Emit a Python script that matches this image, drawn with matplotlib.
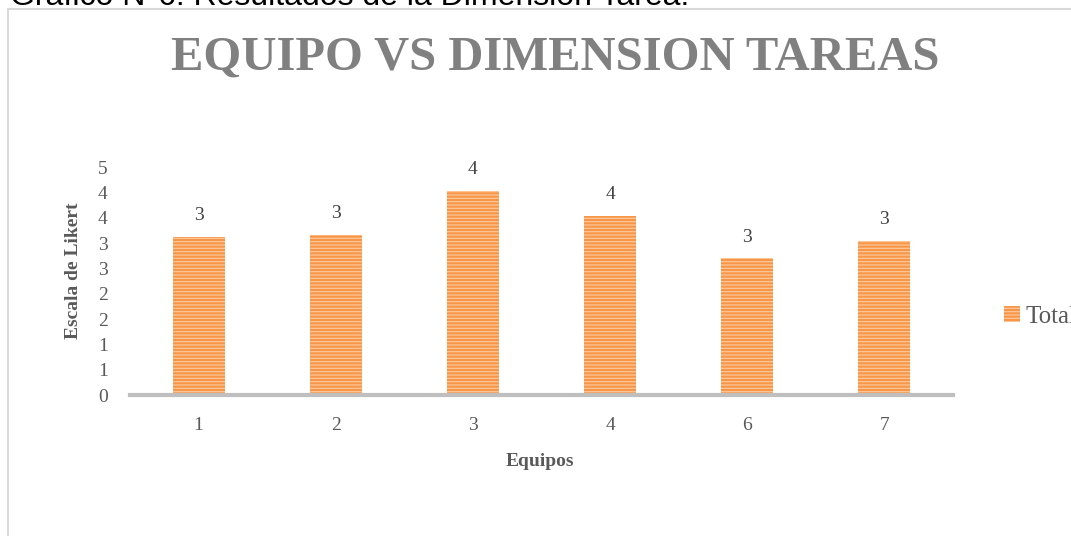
import math
import numpy as np
import matplotlib
matplotlib.use("Agg")
import matplotlib.pyplot as plt
from matplotlib.patches import Rectangle

# ---- data ----
categories = ["1", "2", "3", "4", "6", "7"]
values = [3.12, 3.16, 4.03, 3.53, 2.70, 3.04]
series_name = "Total"
title = "EQUIPO VS DIMENSION TAREAS"
caption = "Gráfico N°6: Resultados de la Dimensión Tarea."
xlabel = "Equipos"
ylabel = "Escala de Likert"
y_ticks = [0, 0.5, 1.0, 1.5, 2.0, 2.5, 3.0, 3.5, 4.0, 4.5]

W, H = 1071, 536
plt.rcParams["hatch.linewidth"] = 0.9
serif = ["Liberation Serif", "DejaVu Serif"]

fig = plt.figure(figsize=(W / 100, H / 100), dpi=100)
fig.patch.set_facecolor("white")

# chart frame (cut by the picture edge)
fig.patches.append(Rectangle((8 / W, -0.1), 1.2, (H - 9) / H + 0.1,
                             transform=fig.transFigure, fill=False,
                             edgecolor="#D9D9D9", linewidth=1.5))

ax = fig.add_axes([130 / W, (H - 395) / H, (953 - 130) / W, (395 - 167) / H])
x = np.arange(len(categories))
bars = ax.bar(x, values, width=0.38, color="#F79646", edgecolor="#FCC79A",
              hatch="-----", linewidth=0, label=series_name)

def half_up(v):
    return str(int(math.floor(v + 0.5)))

for xi, v in zip(x, values):
    ax.annotate(half_up(v), (xi, v), xytext=(0, 12), textcoords="offset points",
                ha="center", va="baseline", fontsize=14, family=serif,
                color="#404040")

ax.set_xlim(-0.5, len(categories) - 0.5)
ax.set_ylim(0, 4.5)
ax.set_yticks(y_ticks)
ax.set_yticklabels([half_up(t) for t in y_ticks])
ax.set_xticks(x)
ax.set_xticklabels(categories)
ax.tick_params(axis="y", length=0, pad=16, labelsize=14, labelcolor="#595959")
ax.tick_params(axis="x", length=0, pad=16, labelsize=14, labelcolor="#595959")
for lab in ax.get_xticklabels() + ax.get_yticklabels():
    lab.set_family(serif)
for s in ["top", "right", "left"]:
    ax.spines[s].set_visible(False)
ax.spines["bottom"].set_color("#BFBFBF")
ax.spines["bottom"].set_linewidth(3)

fig.text(540 / W, 1 - 462 / H, xlabel, ha="center", va="center", fontsize=14,
         fontweight="bold", family=serif, color="#595959")
fig.text(73 / W, 1 - 271 / H, ylabel, ha="center", va="center", rotation=90,
         fontsize=14, fontweight="bold", family=serif, color="#595959")

fig.text(555 / W, 1 - 58 / H, title, ha="center", va="center", fontsize=35,
         fontweight="bold", family=serif, color="#808080")

fig.text(10 / W, 1 - 5 / H, caption, ha="left", va="baseline", fontsize=23,
         family=["Liberation Sans", "DejaVu Sans"], color="#000000")

fig.legend(handles=[bars], labels=[series_name], loc="center left",
           bbox_to_anchor=(1004 / W, 1 - 317 / H), bbox_transform=fig.transFigure,
           frameon=False, borderpad=0, borderaxespad=0, handlelength=0.62,
           handleheight=0.62, handletextpad=0.25,
           prop={"family": serif, "size": 18}, labelcolor="#595959")

fig.savefig("out.png", dpi=100)
